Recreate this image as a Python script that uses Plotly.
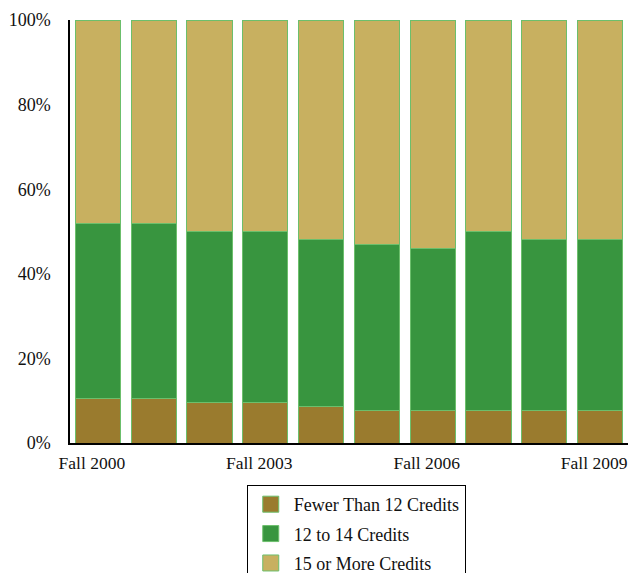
import plotly.graph_objects as go

categories = ["Fall 2000", "Fall 2001", "Fall 2002", "Fall 2003", "Fall 2004",
              "Fall 2005", "Fall 2006", "Fall 2007", "Fall 2008", "Fall 2009"]
fewer_than_12 = [10.6, 10.6, 9.6, 9.6, 8.6, 7.7, 7.7, 7.7, 7.7, 7.7]
twelve_to_14 = [41.4, 41.4, 40.4, 40.4, 39.4, 39.3, 38.3, 42.3, 40.3, 40.3]
fifteen_plus = [48.0, 48.0, 50.0, 50.0, 52.0, 53.0, 54.0, 50.0, 52.0, 52.0]
x_tick_labels = ["Fall 2000", "Fall 2003", "Fall 2006", "Fall 2009"]
y_tick_values = [0, 20, 40, 60, 80, 100]
y_tick_labels = ["0%", "20%", "40%", "60%", "80%", "100%"]

series = [
    ("Fewer Than 12 Credits", fewer_than_12, "#9a7b2e"),
    ("12 to 14 Credits", twelve_to_14, "#38953f"),
    ("15 or More Credits", fifteen_plus, "#c8b060"),
]
outline = "#6cbf6c"

fig = go.Figure()
for i, (name, vals, color) in enumerate(series):
    fig.add_trace(go.Bar(
        x=categories, y=vals, name=name, showlegend=False,
        legendgroup=f"g{i}",
        marker=dict(color=color, line=dict(color=outline, width=1)),
    ))
# legend entries with larger square swatches
for i, (name, vals, color) in enumerate(series):
    fig.add_trace(go.Scatter(
        x=[None], y=[None], mode="markers", name=name,
        legendgroup=f"g{i}",
        marker=dict(symbol="square", size=20, color=color,
                    line=dict(color=outline, width=1)),
    ))

font_family = "Liberation Serif, Times New Roman, serif"
fig.update_layout(
    barmode="stack",
    bargap=0.19,
    width=628, height=565,
    margin=dict(l=62, r=8, t=12, b=129.5),
    paper_bgcolor="white", plot_bgcolor="white",
    font=dict(family=font_family, size=18, color="#111111"),
    xaxis=dict(
        type="category", range=[-0.5, 9.5], automargin=False,
        tickvals=x_tick_labels, ticktext=x_tick_labels, tickangle=0,
        showline=True, linecolor="black", linewidth=1.5,
        showgrid=False, ticks="", ticklabelstandoff=3,
        ticklabelshift=-6, tickfont=dict(size=17.5),
    ),
    yaxis=dict(
        range=[0, 100], automargin=False,
        tickvals=y_tick_values, ticktext=y_tick_labels,
        showline=True, linecolor="black", linewidth=1.5,
        showgrid=False, zeroline=False, ticks="", ticklabelstandoff=14,
    ),
    legend=dict(
        xref="paper", yref="container",
        x=0.513, xanchor="center", y=0.1558, yanchor="top",
        bordercolor="black", borderwidth=1, bgcolor="white",
        traceorder="grouped", tracegroupgap=3, itemwidth=36,
        itemsizing="trace", font=dict(size=18),
    ),
    showlegend=True,
)

fig.write_html("out.html")
